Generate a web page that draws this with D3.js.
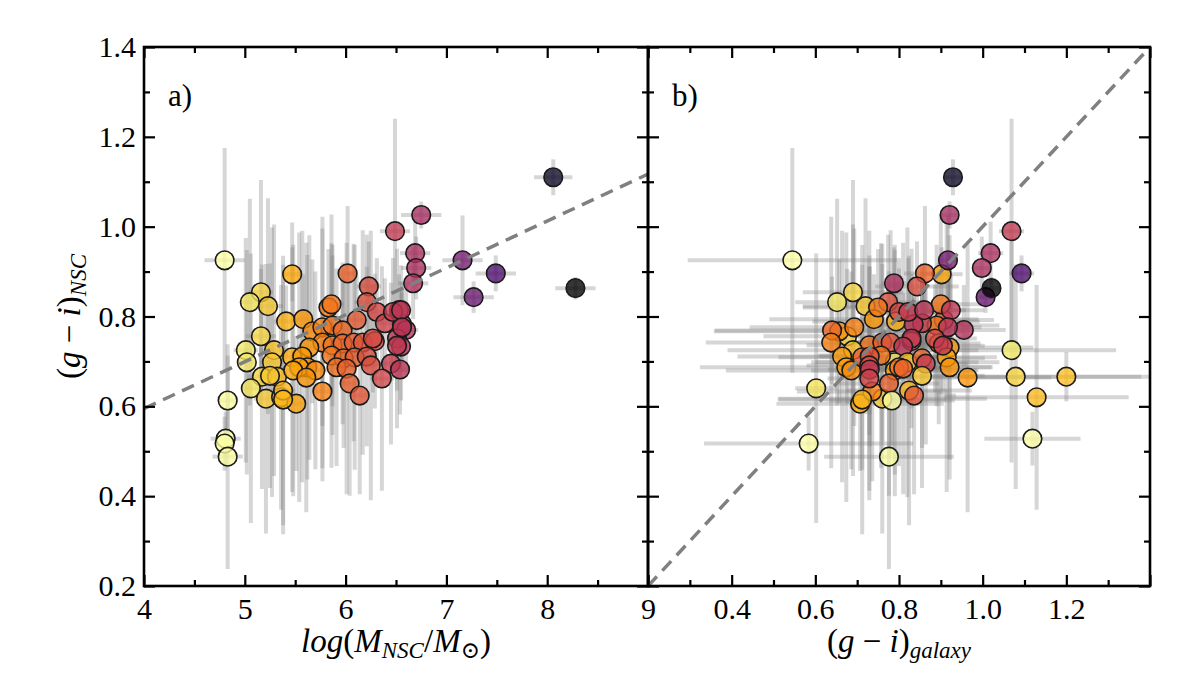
<!DOCTYPE html>
<html>
<head>
<meta charset="utf-8">
<script src="https://cdn.jsdelivr.net/npm/d3@7"></script>
<style>
  body { margin: 0; background: #fff; }
  svg { display: block; font-family: "Liberation Serif", "DejaVu Serif", serif; }
</style>
</head>
<body>
<svg id="chart" width="1200" height="675"></svg>
<script>
// log(M_NSC / M_sun) and its error
const logMass = [4.80, 5.47, 5.16, 5.05, 5.23, 5.41, 5.58, 6.02, 6.49, 6.23, 6.21, 6.31, 6.11, 5.16, 5.83, 5.86, 5.67, 5.77, 5.87, 5.97,
  6.39, 6.56, 6.60, 6.53, 6.47, 5.77, 5.64, 5.87, 5.97, 6.08, 6.17, 6.29, 6.51, 6.55, 5.01, 5.29, 5.02, 5.27, 5.47, 5.57,
  5.62, 5.54, 5.70, 5.86, 5.98, 6.09, 6.21, 6.25, 6.45, 6.54, 5.17, 5.32, 5.48, 5.61, 5.91, 6.01, 5.06, 5.21, 5.36, 5.38,
  5.51, 5.77, 6.04, 6.14, 6.36, 4.83, 4.81, 4.80, 4.83, 8.06, 6.75, 6.69, 6.70, 6.67, 7.16, 7.49, 7.27, 8.28, 6.55, 6.56,
  6.27, 6.51, 5.38, 5.25];
const logMassErr = [0.20, 0.10, 0.12, 0.10, 0.15, 0.12, 0.10, 0.10, 0.15, 0.12, 0.12, 0.10, 0.10, 0.15, 0.10, 0.12, 0.10, 0.12, 0.10, 0.10,
  0.10, 0.10, 0.12, 0.10, 0.10, 0.10, 0.12, 0.10, 0.10, 0.10, 0.10, 0.10, 0.10, 0.10, 0.12, 0.15, 0.10, 0.12, 0.10, 0.10,
  0.10, 0.10, 0.12, 0.10, 0.10, 0.10, 0.10, 0.10, 0.10, 0.10, 0.15, 0.12, 0.12, 0.10, 0.10, 0.10, 0.10, 0.12, 0.10, 0.12,
  0.10, 0.10, 0.10, 0.10, 0.12, 0.10, 0.15, 0.10, 0.15, 0.19, 0.20, 0.15, 0.15, 0.15, 0.20, 0.20, 0.20, 0.20, 0.10, 0.10,
  0.10, 0.10, 0.10, 0.12];
// (g - i) of the host galaxy and its error
const giGalaxy = [0.545, 0.902, 0.690, 0.652, 0.720, 0.793, 0.740, 0.862, 1.069, 0.843, 0.774, 0.800, 0.907, 0.676, 0.750, 0.900, 0.657, 0.693, 0.890, 0.640,
  0.855, 0.835, 0.955, 0.924, 0.822, 0.638, 0.921, 0.729, 0.895, 0.760, 0.780, 0.830, 0.830, 0.810, 1.069, 0.690, 0.790, 0.820, 0.914, 0.664,
  0.921, 0.674, 0.686, 0.757, 0.855, 0.712, 0.730, 0.729, 0.864, 0.730, 1.079, 1.200, 0.790, 0.964, 0.800, 0.810, 0.602, 0.760, 1.129, 0.824,
  0.707, 0.736, 0.776, 0.836, 0.729, 0.783, 1.119, 0.584, 0.776, 0.929, 0.921, 1.019, 0.998, 0.788, 0.917, 1.093, 1.007, 1.021, 0.860, 0.917,
  0.886, 0.905, 0.712, 0.855];
const giGalaxyErr = [0.25, 0.05, 0.12, 0.10, 0.15, 0.20, 0.25, 0.05, 0.03, 0.10, 0.08, 0.10, 0.12, 0.20, 0.18, 0.10, 0.30, 0.25, 0.15, 0.28,
  0.10, 0.12, 0.10, 0.08, 0.10, 0.30, 0.20, 0.15, 0.10, 0.12, 0.10, 0.12, 0.10, 0.08, 0.25, 0.30, 0.20, 0.22, 0.12, 0.25,
  0.10, 0.35, 0.30, 0.15, 0.15, 0.20, 0.12, 0.15, 0.10, 0.10, 0.30, 0.25, 0.20, 0.20, 0.12, 0.10, 0.05, 0.25, 0.22, 0.15,
  0.20, 0.18, 0.12, 0.10, 0.10, 0.15, 0.115, 0.25, 0.155, 0.02, 0.02, 0.03, 0.02, 0.03, 0.02, 0.03, 0.02, 0.02, 0.10, 0.08,
  0.10, 0.10, 0.20, 0.15];
// (g - i) of the nuclear star cluster and its error
const giNSC = [0.925, 0.894, 0.854, 0.832, 0.823, 0.789, 0.794, 0.896, 0.990, 0.867, 0.832, 0.810, 0.792, 0.756, 0.820, 0.827, 0.767, 0.776, 0.780, 0.769,
  0.785, 0.783, 0.770, 0.814, 0.810, 0.742, 0.731, 0.736, 0.740, 0.742, 0.742, 0.745, 0.751, 0.733, 0.725, 0.725, 0.698, 0.698, 0.709, 0.711,
  0.687, 0.687, 0.680, 0.713, 0.707, 0.709, 0.711, 0.691, 0.695, 0.682, 0.666, 0.666, 0.680, 0.664, 0.687, 0.684, 0.640, 0.617, 0.620, 0.635,
  0.606, 0.633, 0.651, 0.624, 0.662, 0.613, 0.528, 0.517, 0.488, 1.110, 1.026, 0.941, 0.908, 0.874, 0.925, 0.896, 0.843, 0.863, 0.814, 0.776,
  0.751, 0.735, 0.615, 0.668];
const giNSCErr = [0.25, 0.06, 0.25, 0.23, 0.24, 0.08, 0.10, 0.15, 0.25, 0.10, 0.15, 0.12, 0.10, 0.15, 0.13, 0.20, 0.16, 0.22, 0.18, 0.12,
  0.10, 0.08, 0.10, 0.08, 0.12, 0.28, 0.25, 0.20, 0.18, 0.22, 0.25, 0.15, 0.20, 0.12, 0.25, 0.28, 0.25, 0.30, 0.30, 0.28,
  0.25, 0.30, 0.22, 0.25, 0.20, 0.25, 0.20, 0.30, 0.18, 0.10, 0.25, 0.055, 0.28, 0.30, 0.22, 0.28, 0.30, 0.30, 0.25, 0.30,
  0.15, 0.20, 0.25, 0.22, 0.25, 0.10, 0.06, 0.06, 0.25, 0.04, 0.03, 0.07, 0.07, 0.08, 0.10, 0.04, 0.035, 0.025, 0.10, 0.10,
  0.12, 0.10, 0.30, 0.25];

// dashed reference lines
const fitX = [4, 9];
const fitY = [0.595, 1.117];
const oneToOne = [0.2, 1.4];

// ticks
const massTicks = [4, 5, 6, 7, 8, 9];
const massMinor = [4.5, 5.5, 6.5, 7.5, 8.5];
const galTicks = [0.2, 0.4, 0.6, 0.8, 1.0, 1.2, 1.4];
const galLabels = [0.4, 0.6, 0.8, 1.0, 1.2];
const galMinor = [0.3, 0.5, 0.7, 0.9, 1.1, 1.3];
const yTicks = [0.2, 0.4, 0.6, 0.8, 1.0, 1.2, 1.4];
const yMinor = [0.3, 0.5, 0.7, 0.9, 1.1, 1.3];

const objects = logMass.map((m, i) => ({
  m, me: logMassErr[i],
  g: giGalaxy[i], ge: giGalaxyErr[i],
  c: giNSC[i], ce: giNSCErr[i],
}));

const svg = d3.select('#chart');
const plotTop = 47, plotBottom = 586;
const y = d3.scaleLinear().domain([0.2, 1.4]).range([plotBottom, plotTop]);
const xA = d3.scaleLinear().domain([4, 9]).range([144, 648]);
const xB = d3.scaleLinear().domain([0.2, 1.4]).range([648, 1150]);
const color = d3.scaleSequential(d3.interpolateInferno).domain(d3.extent(logMass).reverse());

const fontSize = 30;
const majorLen = 11, minorLen = 6;

function drawPanel(id, x, key, errKey, opts) {
  const [x0, x1] = x.range();
  const g = svg.append('g').attr('class', 'panel-' + id);

  g.append('clipPath').attr('id', 'clip-' + id)
    .append('rect')
    .attr('x', x0).attr('y', plotTop)
    .attr('width', x1 - x0).attr('height', plotBottom - plotTop);

  const body = g.append('g').attr('clip-path', `url(#clip-${id})`);

  // error bars (under the points)
  const err = body.append('g')
    .attr('stroke', '#808080')
    .attr('stroke-opacity', 0.32)
    .attr('stroke-width', 4);
  err.selectAll('line.ex').data(objects).enter().append('line')
    .attr('class', 'ex')
    .attr('x1', (d) => x(d[key] - d[errKey]))
    .attr('x2', (d) => x(d[key] + d[errKey]))
    .attr('y1', (d) => y(d.c))
    .attr('y2', (d) => y(d.c));
  err.selectAll('line.ey').data(objects).enter().append('line')
    .attr('class', 'ey')
    .attr('x1', (d) => x(d[key]))
    .attr('x2', (d) => x(d[key]))
    .attr('y1', (d) => y(d.c - d.ce))
    .attr('y2', (d) => y(d.c + d.ce));

  body.append('g').selectAll('circle').data(objects).enter().append('circle')
    .attr('cx', (d) => x(d[key]))
    .attr('cy', (d) => y(d.c))
    .attr('r', 9.3)
    .attr('fill', (d) => color(d.m))
    .attr('fill-opacity', 0.78)
    .attr('stroke', '#1a1a1a')
    .attr('stroke-width', 1.6);

  // dashed line on top
  body.append('line')
    .attr('x1', x(opts.lineX[0])).attr('y1', y(opts.lineY[0]))
    .attr('x2', x(opts.lineX[1])).attr('y2', y(opts.lineY[1]))
    .attr('stroke', '#808080')
    .attr('stroke-width', 3.5)
    .attr('stroke-dasharray', '13,8');

  // ticks on all sides, pointing in
  const addAxis = (axis, tx, ty) => {
    const a = g.append('g').attr('transform', `translate(${tx},${ty})`).call(axis);
    a.select('.domain').remove();
    a.selectAll('.tick line').attr('stroke', '#000').attr('stroke-width', 2.2);
    a.selectAll('text').attr('font-size', fontSize).attr('fill', '#000')
      .attr('font-family', '"Liberation Serif", "DejaVu Serif", serif');
    return a;
  };
  const fmt = opts.xFormat;
  addAxis(d3.axisBottom(x).tickValues(opts.xMajor).tickSize(-majorLen).tickPadding(12)
    .tickFormat((d) => (opts.xLabels.includes(d) ? fmt(d) : '')), 0, plotBottom);
  addAxis(d3.axisBottom(x).tickValues(opts.xMinor).tickSize(-minorLen).tickFormat(''), 0, plotBottom);
  addAxis(d3.axisTop(x).tickValues(opts.xMajor).tickSize(-majorLen).tickFormat(''), 0, plotTop);
  addAxis(d3.axisTop(x).tickValues(opts.xMinor).tickSize(-minorLen).tickFormat(''), 0, plotTop);
  addAxis(d3.axisLeft(y).tickValues(yTicks).tickSize(-majorLen).tickPadding(8)
    .tickFormat(opts.yLabels ? d3.format('.1f') : ''), x0, 0);
  addAxis(d3.axisLeft(y).tickValues(yMinor).tickSize(-minorLen).tickFormat(''), x0, 0);
  addAxis(d3.axisRight(y).tickValues(yTicks).tickSize(-majorLen).tickFormat(''), x1, 0);
  addAxis(d3.axisRight(y).tickValues(yMinor).tickSize(-minorLen).tickFormat(''), x1, 0);

  g.append('rect')
    .attr('x', x0).attr('y', plotTop)
    .attr('width', x1 - x0).attr('height', plotBottom - plotTop)
    .attr('fill', 'none').attr('stroke', '#000').attr('stroke-width', 2.6);

  g.append('text')
    .attr('x', x0 + 24).attr('y', 106)
    .attr('font-size', 31)
    .text(opts.tag);
}

drawPanel('a', xA, 'm', 'me', {
  lineX: fitX, lineY: fitY,
  xMajor: massTicks, xMinor: massMinor, xLabels: massTicks,
  xFormat: d3.format('d'), yLabels: true, tag: 'a)',
});
drawPanel('b', xB, 'g', 'ge', {
  lineX: oneToOne, lineY: oneToOne,
  xMajor: galTicks, xMinor: galMinor, xLabels: galLabels,
  xFormat: d3.format('.1f'), yLabels: false, tag: 'b)',
});

// axis titles
const titleSize = 33, sub = 23;
const yTitle = svg.append('text')
  .attr('transform', `translate(80,${(plotTop + plotBottom) / 2}) rotate(-90)`)
  .attr('text-anchor', 'middle')
  .attr('font-size', titleSize);
yTitle.append('tspan').text('(');
yTitle.append('tspan').attr('font-style', 'italic').text('g');
yTitle.append('tspan').text(' − ');
yTitle.append('tspan').attr('font-style', 'italic').text('i');
yTitle.append('tspan').text(')');
yTitle.append('tspan').attr('font-style', 'italic').attr('font-size', sub).attr('dy', 6).text('NSC');

const xTitleA = svg.append('text')
  .attr('x', (xA.range()[0] + xA.range()[1]) / 2).attr('y', 652)
  .attr('text-anchor', 'middle')
  .attr('font-size', titleSize);
xTitleA.append('tspan').attr('font-style', 'italic').text('log');
xTitleA.append('tspan').text('(');
xTitleA.append('tspan').attr('font-style', 'italic').text('M');
xTitleA.append('tspan').attr('font-style', 'italic').attr('font-size', sub).attr('dy', 6).text('NSC');
xTitleA.append('tspan').attr('dy', -6).text('/');
xTitleA.append('tspan').attr('font-style', 'italic').text('M');
xTitleA.append('tspan').attr('font-size', sub).attr('dy', 6).text('⊙');
xTitleA.append('tspan').attr('dy', -6).text(')');

const xTitleB = svg.append('text')
  .attr('x', (xB.range()[0] + xB.range()[1]) / 2).attr('y', 652)
  .attr('text-anchor', 'middle')
  .attr('font-size', titleSize);
xTitleB.append('tspan').text('(');
xTitleB.append('tspan').attr('font-style', 'italic').text('g');
xTitleB.append('tspan').text(' − ');
xTitleB.append('tspan').attr('font-style', 'italic').text('i');
xTitleB.append('tspan').text(')');
xTitleB.append('tspan').attr('font-style', 'italic').attr('font-size', sub).attr('dy', 6).text('galaxy');
</script>
</body>
</html>
